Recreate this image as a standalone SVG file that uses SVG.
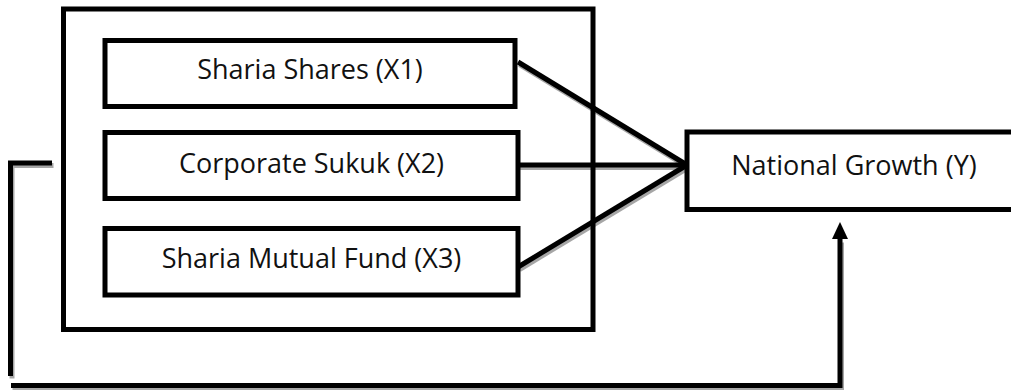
<svg xmlns="http://www.w3.org/2000/svg" width="1011" height="390" viewBox="0 0 1011 390">
  <style>
    .box { fill: #ffffff; stroke: #000000; stroke-width: 5; }
    .frame { fill: none; stroke: #000000; stroke-width: 5; }
    .line { fill: none; stroke: #000000; stroke-width: 5; stroke-linejoin: miter; }
    .shadow { fill: none; stroke: #a6a6a6; stroke-width: 5; stroke-linejoin: miter; }
    .label { font-family: "Open Sans", "Noto Sans", sans-serif; font-size: 27px; fill: #111111; text-anchor: middle; }
  </style>
  <rect width="1011" height="390" fill="#ffffff"/>

  <g id="connectors">
    <g id="shadows" transform="translate(1.5,2.5)">
      <line class="shadow" x1="518" y1="62" x2="687" y2="165"/>
      <line class="shadow" x1="518" y1="165" x2="687" y2="165"/>
      <line class="shadow" x1="518" y1="267" x2="687" y2="165"/>
      <path class="shadow" d="M52,163 H10.5 V376"/>
      <path class="shadow" d="M11,385.5 H840 V240"/>
    </g>
    <line class="line" x1="518" y1="62" x2="687" y2="165"/>
    <line class="line" x1="518" y1="165" x2="687" y2="165"/>
    <line class="line" x1="518" y1="267" x2="687" y2="165"/>
    <path class="line" d="M52,163 H10.5 V376"/>
    <path class="line" d="M11,385.5 H840 V238"/>
    <polygon points="840,222 832,239 848,239" fill="#000000"/>
  </g>

  <g id="group-frame">
    <rect class="frame" x="63.5" y="9" width="529.5" height="320.5"/>
  </g>

  <g id="node-x1">
    <rect class="box" x="105" y="40.5" width="410" height="66"/>
    <text class="label" x="310" y="79">Sharia Shares (X1)</text>
  </g>
  <g id="node-x2">
    <rect class="box" x="105" y="132.5" width="413" height="66"/>
    <text class="label" x="311.5" y="173">Corporate Sukuk (X2)</text>
  </g>
  <g id="node-x3">
    <rect class="box" x="105" y="228.5" width="413" height="66.5"/>
    <text class="label" x="311.5" y="268">Sharia Mutual Fund (X3)</text>
  </g>
  <g id="node-y">
    <rect class="box" x="687" y="132" width="340" height="77.5"/>
    <text class="label" x="854" y="175">National Growth (Y)</text>
  </g>
</svg>
